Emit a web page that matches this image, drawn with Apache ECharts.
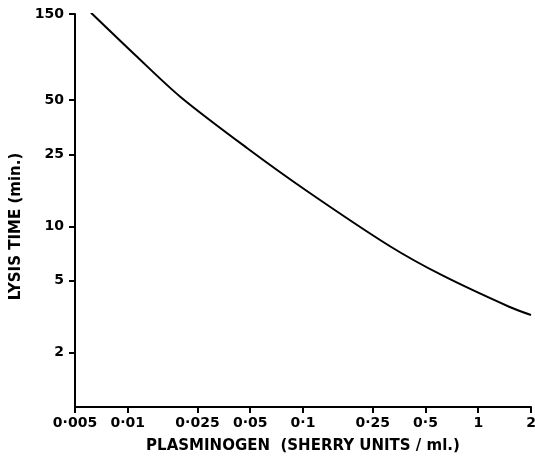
<!DOCTYPE html>
<html><head><meta charset="utf-8">
<script src="https://cdn.jsdelivr.net/npm/echarts@6/dist/echarts.min.js"></script>
<style>html,body{margin:0;padding:0;background:#fff}#c{width:535px;height:456px}</style>
</head><body><div id="c"></div>
<script>
const plasminogen = [0.00617, 0.0111, 0.0200, 0.0481, 0.1068, 0.312, 0.625, 1.50, 2.0];
const lysisTime   = [152.5, 88.4, 52.1, 27.1, 15.56, 7.79, 5.35, 3.59, 3.23];
const xTicks = [0.005, 0.01, 0.025, 0.05, 0.1, 0.25, 0.5, 1, 2];
const yTicks = [2, 5, 10, 25, 50, 150];

const fmt = v => String(+v.toPrecision(6)).replace('.', '·');
const font = 'DejaVu Sans';
const chart = echarts.init(document.getElementById('c'));
chart.setOption({
  animation: false,
  grid: {left: 75, right: 4, top: 14, bottom: 49, containLabel: false, outerBoundsMode: 'none'},
  xAxis: {
    type: 'log', min: 0.005, max: 2,
    name: 'PLASMINOGEN  (SHERRY UNITS / ml.)', nameLocation: 'middle', nameGap: 32,
    nameTextStyle: {fontFamily: font, fontWeight: 'bold', fontSize: 15, color: '#000'},
    axisLine: {lineStyle: {color: '#000', width: 2}},
    axisTick: {length: 6, lineStyle: {color: '#000', width: 2}, customValues: xTicks},
    axisLabel: {customValues: xTicks, formatter: fmt, color: '#000', fontFamily: font, fontWeight: 'bold', fontSize: 14, margin: 9},
    splitLine: {show: false}, minorTick: {show: false}
  },
  yAxis: {
    type: 'log', min: 1, max: 150,
    name: 'LYSIS TIME (min.)', nameLocation: 'middle', nameGap: 51,
    nameTextStyle: {fontFamily: font, fontWeight: 'bold', fontSize: 15, color: '#000', padding: [0, 32, 0, 0]},
    axisLine: {lineStyle: {color: '#000', width: 2}},
    axisTick: {length: 6, lineStyle: {color: '#000', width: 2}, customValues: yTicks},
    axisLabel: {customValues: yTicks, formatter: fmt, color: '#000', fontFamily: font, fontWeight: 'bold', fontSize: 14, margin: 11},
    splitLine: {show: false}, minorTick: {show: false}
  },
  series: [{
    type: 'line', smooth: 0.3, symbol: 'none',
    lineStyle: {color: '#000', width: 2},
    data: plasminogen.map((x, i) => [x, lysisTime[i]])
  }]
});
</script></body></html>
